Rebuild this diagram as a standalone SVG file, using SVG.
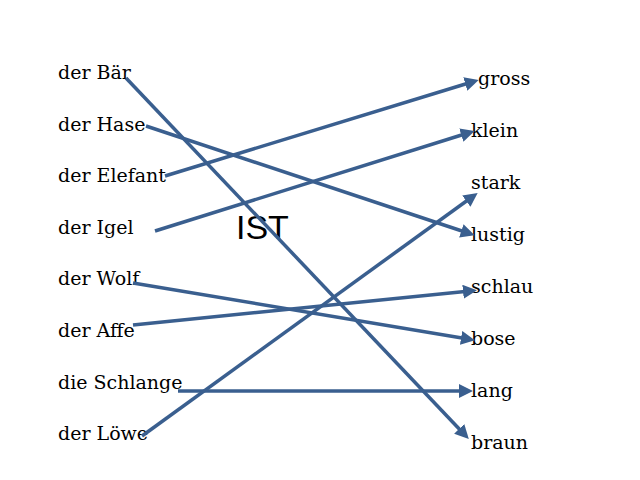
<svg xmlns="http://www.w3.org/2000/svg" width="640" height="480" viewBox="0 0 640 480">
<style>
.t{font-family:"DejaVu Serif",serif;font-size:19px;fill:#000}
.c line{stroke:#3a5f8f;stroke-width:3.5;marker-end:url(#a)}
</style>
<defs><marker id="a" markerWidth="4" markerHeight="4" refX="2" refY="2" orient="auto"><path d="M0,0L4,2L0,4z" fill="#3a5f8f"/></marker></defs>
<rect width="640" height="480" fill="#fff"/>
<g id="left">
<text class="t" x="58" y="79">der Bär</text>
<text class="t" x="58" y="131">der Hase</text>
<text class="t" x="58" y="182">der Elefant</text>
<text class="t" x="58" y="234">der Igel</text>
<text class="t" x="58" y="285">der Wolf</text>
<text class="t" x="58" y="337">der Affe</text>
<text class="t" x="58" y="389">die Schlange</text>
<text class="t" x="58" y="440">der Löwe</text>
</g>
<g id="right">
<text class="t" x="478" y="85">gross</text>
<text class="t" x="471" y="137">klein</text>
<text class="t" x="471" y="189">stark</text>
<text class="t" x="471" y="241">lustig</text>
<text class="t" x="471" y="293">schlau</text>
<text class="t" x="471" y="345">bose</text>
<text class="t" x="471" y="397">lang</text>
<text class="t" x="471" y="449">braun</text>
</g>
<g id="ist"><text x="236" y="239" font-family="Liberation Sans,sans-serif" font-size="34">IST</text></g>
<g class="c" id="connectors">
<line x1="126" y1="78" x2="464" y2="434"/>
<line x1="146" y1="126" x2="468" y2="233"/>
<line x1="165" y1="176" x2="472" y2="82"/>
<line x1="155" y1="231" x2="468" y2="133"/>
<line x1="133" y1="283" x2="468" y2="339"/>
<line x1="133" y1="325" x2="470" y2="291"/>
<line x1="178" y1="391" x2="466" y2="391"/>
<line x1="142" y1="436" x2="472" y2="197"/>
</g>
</svg>
